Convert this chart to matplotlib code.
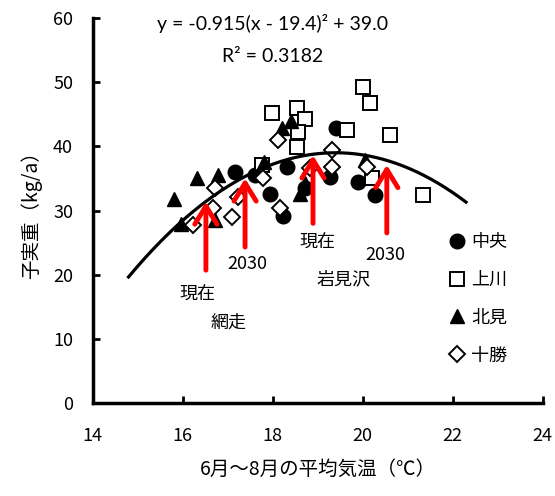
import numpy as np
import matplotlib
matplotlib.use('Agg')
import matplotlib.pyplot as plt

plt.rcParams['font.family'] = ['Noto Sans CJK JP', 'DejaVu Sans']

# ── Data ─────────────────────────────────────────────────────────────────────

chuo_x = [17.17, 17.6, 17.94, 18.23, 18.32, 18.72, 19.28, 19.4, 19.9, 20.28]
chuo_y = [36.0, 35.5, 32.5, 29.1, 36.8, 33.5, 35.2, 42.8, 34.4, 32.4]

kamikawa_x = [17.99, 18.54, 18.72, 18.56, 18.54, 17.77, 19.66, 20.01, 20.17, 20.61, 21.34, 20.2]
kamikawa_y = [45.2, 45.9, 44.2, 42.2, 39.9, 37.1, 42.5, 49.2, 46.7, 41.7, 32.4, 35.0]

kitami_x = [15.81, 15.96, 16.32, 16.79, 16.72, 17.8, 18.2, 18.4, 18.72, 18.6, 20.05]
kitami_y = [31.8, 27.9, 35.0, 35.5, 28.5, 37.6, 42.8, 44.0, 34.3, 32.6, 37.9]

tokachi_x = [16.24, 16.72, 16.68, 17.1, 17.23, 17.79, 18.17, 18.12, 19.32, 19.32, 18.83, 20.1]
tokachi_y = [27.7, 33.5, 30.4, 29.0, 32.1, 35.0, 30.4, 41.0, 39.4, 36.8, 36.6, 36.8]

series_names = ['中央', '上川', '北見', '十勝']

# trendline y = a(x - h)^2 + k
fit_a, fit_h, fit_k = -0.915, 19.4, 39.0
fit_xmin, fit_xmax = 14.8, 22.3

# red arrows: x, base y, tip y
arrow_x = [16.52, 17.39, 18.9, 20.54]
arrow_base = [20.7, 24.3, 28.0, 26.5]
arrow_tip = [31.4, 35.0, 38.6, 37.1]

# annotation labels: text, x, y
notes = [('現在', 16.33, 16.8), ('網走', 17.03, 12.5), ('2030', 17.45, 21.6),
         ('現在', 18.99, 24.9), ('2030', 20.5, 23.0), ('岩見沢', 19.57, 19.2)]


# ── Plot ──────────────────────────────────────────────────────────────────────

fig = plt.figure(figsize=(5.55, 4.96), dpi=100)
ax = fig.add_axes([0.1667, 0.1875, 0.8108, 0.7762])

ms = 10.5
ax.plot(chuo_x, chuo_y, 'o', ms=ms, color='black', label=series_names[0], zorder=3)
ax.plot(kamikawa_x, kamikawa_y, 's', ms=ms, mfc='white', mec='black', mew=1.4,
        label=series_names[1], zorder=3)
ax.plot(kitami_x, kitami_y, '^', ms=ms, color='black', label=series_names[2], zorder=3)
ax.plot(tokachi_x, tokachi_y, 'D', ms=7.8, mfc='white', mec='black', mew=1.4,
        label=series_names[3], zorder=3)

xs = np.linspace(fit_xmin, fit_xmax, 200)
ax.plot(xs, fit_a * (xs - fit_h) ** 2 + fit_k, color='black', lw=2.3, zorder=4)

for x, y0, y1 in zip(arrow_x, arrow_base, arrow_tip):
  ax.annotate('', xy=(x, y1), xytext=(x, y0),
              arrowprops=dict(arrowstyle='->,head_length=0.65,head_width=0.4',
                              mutation_scale=20, color='red', lw=3.5,
                              shrinkA=0, shrinkB=0), zorder=5)

for txt, x, y in notes:
  ax.text(x, y, txt, fontsize=13, ha='center', va='center', zorder=6)

ax.text(0.4, 0.985, 'y = -0.915(x - 19.4)² + 39.0', transform=ax.transAxes,
        fontsize=14, family='Lato', ha='center', va='center')
ax.text(0.4, 0.9, 'R² = 0.3182', transform=ax.transAxes,
        fontsize=14, family='Lato', ha='center', va='center')

ax.set_xlim(14, 24)
ax.set_ylim(0, 60)
ax.set_xticks(np.arange(14, 25, 2))
ax.set_yticks(np.arange(0, 61, 10))
ax.tick_params(direction='in', length=5, width=2, labelsize=13)
ax.tick_params(axis='x', pad=17)
ax.tick_params(axis='y', pad=14)
for side in ['top', 'right']:
  ax.spines[side].set_visible(False)
for side in ['left', 'bottom']:
  ax.spines[side].set_linewidth(2.5)

ax.set_xlabel('6月～8月の平均気温（℃）', fontsize=14, labelpad=10)
ax.set_ylabel('子実重（kg/a）', fontsize=14, labelpad=8)

ax.legend(loc='upper left', bbox_to_anchor=(0.765, 0.465), frameon=False,
          fontsize=13, handletextpad=0.2, labelspacing=1.1, borderpad=0,
          handlelength=1.2)

fig.savefig('out.png', dpi=100)
